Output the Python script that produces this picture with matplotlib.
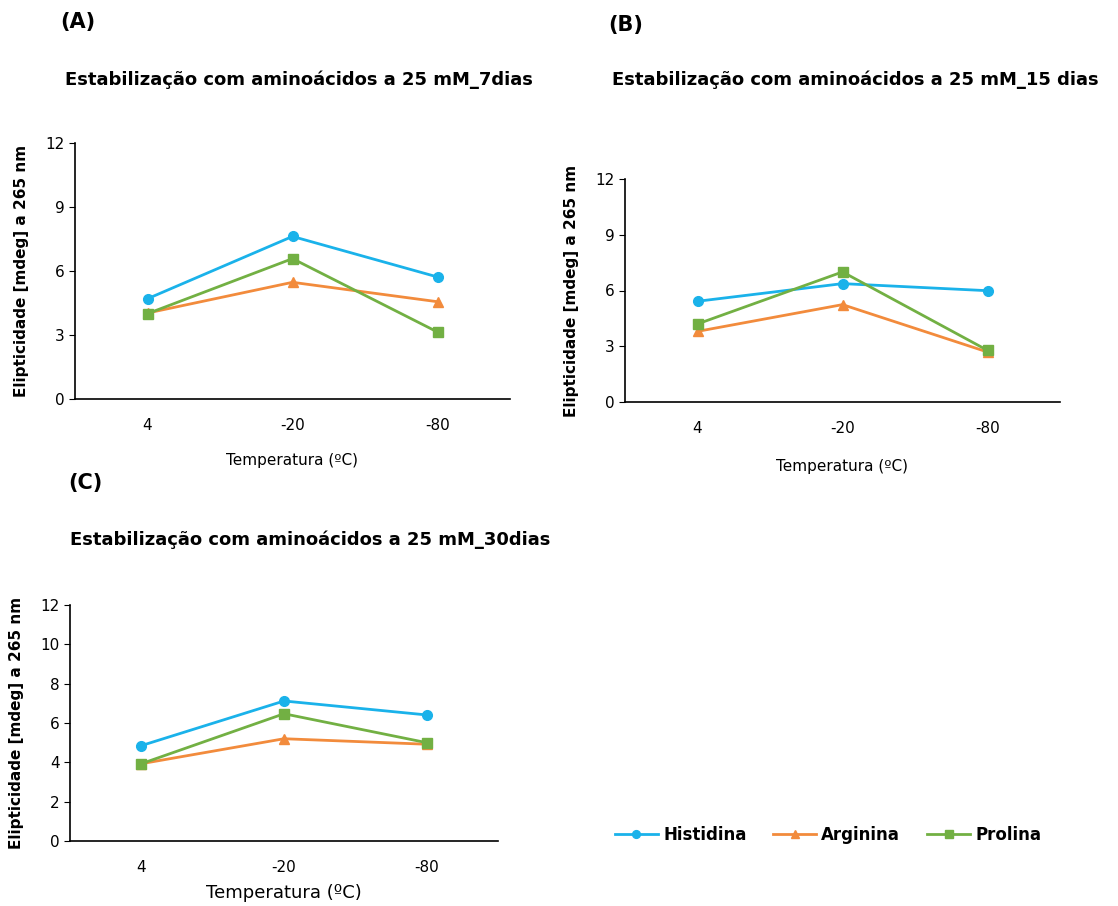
import matplotlib.pyplot as plt

temps = ["4", "-20", "-80"]
series_names = ["Histidina", "Arginina", "Prolina"]
colors = ["#1AB2EA", "#F28B3C", "#72B043"]
markers = ["o", "^", "s"]

# ellipticity at 265 nm, one list per amino acid
d7 = {
    "Histidina": [4.70, 7.62, 5.72],
    "Arginina": [4.03, 5.47, 4.56],
    "Prolina": [4.00, 6.58, 3.14],
}
d15 = {
    "Histidina": [5.42, 6.37, 5.99],
    "Arginina": [3.80, 5.24, 2.69],
    "Prolina": [4.20, 7.00, 2.78],
}
d30 = {
    "Histidina": [4.85, 7.12, 6.41],
    "Arginina": [3.93, 5.20, 4.92],
    "Prolina": [3.93, 6.47, 5.00],
}

W, H = 1118, 906
fig = plt.figure(figsize=(W / 100, H / 100), dpi=100)


def box(x0, y0, x1, y1):
    return [x0 / W, 1 - y1 / H, (x1 - x0) / W, (y1 - y0) / H]


def panel(rect, data, yticks, xlab_pad, xlab_size):
    ax = fig.add_axes(box(*rect))
    xs = [0.5, 1.5, 2.5]
    lines = []
    for name, c, m in zip(series_names, colors, markers):
        ln, = ax.plot(xs, data[name], color=c, marker=m, lw=2, ms=7, label=name)
        lines.append(ln)
    ax.set_xlim(0, 3)
    ax.set_ylim(0, 12)
    ax.set_xticks(xs)
    ax.set_xticklabels(temps, fontsize=11)
    ax.set_yticks(yticks)
    ax.tick_params(axis="x", length=0, pad=14)
    ax.tick_params(axis="y", length=4, labelsize=11, direction="out")
    for s in ["top", "right"]:
        ax.spines[s].set_visible(False)
    ax.spines["left"].set_linewidth(1.2)
    ax.spines["bottom"].set_linewidth(1.2)
    ax.set_ylabel("Elipticidade [mdeg] a 265 nm", fontsize=11, fontweight="bold", labelpad=12)
    ax.set_xlabel("Temperatura (ºC)", fontsize=xlab_size, labelpad=xlab_pad)
    return lines


lines = panel((75, 143, 510, 399), d7, [0, 3, 6, 9, 12], 14, 11)
panel((625, 179, 1060, 402), d15, [0, 3, 6, 9, 12], 16, 11)
panel((70, 605, 498, 841), d30, [0, 2, 4, 6, 8, 10, 12], 6, 13)

tkw = dict(fontsize=13, fontweight="semibold", va="center")
fig.text(65 / W, 1 - 80 / H, "Estabilização com aminoácidos a 25 mM_7dias", **tkw)
fig.text(612 / W, 1 - 80 / H, "Estabilização com aminoácidos a 25 mM_15 dias", **tkw)
fig.text(70 / W, 1 - 540 / H, "Estabilização com aminoácidos a 25 mM_30dias", **tkw)

lkw = dict(fontsize=15, fontweight="bold", va="center")
fig.text(60 / W, 1 - 22 / H, "(A)", **lkw)
fig.text(608 / W, 1 - 25 / H, "(B)", **lkw)
fig.text(68 / W, 1 - 483 / H, "(C)", **lkw)

fig.legend(lines, series_names, loc="center", bbox_to_anchor=(828 / W, 1 - 835 / H),
           ncol=3, frameon=False, handlelength=2.6, handletextpad=0.3,
           columnspacing=1.6, markerscale=0.8,
           prop={"weight": "semibold", "size": 12})

plt.savefig("out.png", dpi=100)
